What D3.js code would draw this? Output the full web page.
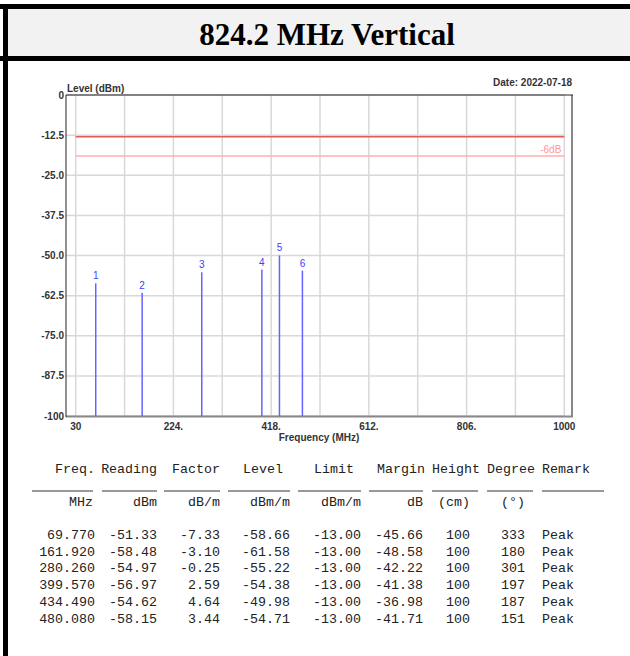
<!DOCTYPE html>
<html>
<head>
<meta charset="utf-8">
<script src="https://cdn.jsdelivr.net/npm/d3@7"></script>
<style>
body { margin: 0; background: #fff; }
svg { display: block; }
</style>
</head>
<body>
<div id="graph"></div>
<script>
var freqs = [69.770, 161.920, 280.260, 399.570, 434.490, 480.080];
var reading = [-51.33, -58.48, -54.97, -56.97, -54.62, -58.15];
var factor = [-7.33, -3.10, -0.25, 2.59, 4.64, 3.44];
var level = [-58.66, -61.58, -55.22, -54.38, -49.98, -54.71];
var limit = [-13.00, -13.00, -13.00, -13.00, -13.00, -13.00];
var margin = [-45.66, -48.58, -42.22, -41.38, -36.98, -41.71];
var height = [100, 100, 100, 100, 100, 100];
var degree = [333, 180, 301, 197, 187, 151];
var remark = ["Peak", "Peak", "Peak", "Peak", "Peak", "Peak"];

var x_ticks = [30, 224, 418, 612, 806, 1000];
var x_tick_labels = ["30", "224.", "418.", "612.", "806.", "1000"];
var x_grid = [30, 127, 224, 321, 418, 515, 612, 709, 806, 903, 1000];
var y_ticks = [0, -12.5, -25, -37.5, -50, -62.5, -75, -87.5, -100];
var y_tick_labels = ["0", "-12.5", "-25.0", "-37.5", "-50.0", "-62.5", "-75.0", "-87.5", "-100"];
var limit_line = -13;
var limit_6db = -19;

var headers = ["Freq.", "Reading", "Factor", "Level", "Limit", "Margin", "Height", "Degree", "Remark"];
var units = ["MHz", "dBm", "dB/m", "dBm/m", "dBm/m", "dB", "(cm)", "(\u00b0)", ""];

var W = 630, H = 656;
var svg = d3.select('#graph').append('svg').attr('width', W).attr('height', H);

// title band and frame
svg.append('rect').attr('x', 8).attr('y', 9).attr('width', W - 8).attr('height', 47).attr('fill', '#f2f2f2');
svg.append('rect').attr('x', 0).attr('y', 4).attr('width', W).attr('height', 5).attr('fill', '#000');
svg.append('rect').attr('x', 0).attr('y', 56).attr('width', W).attr('height', 5).attr('fill', '#000');
svg.append('rect').attr('x', 3).attr('y', 4).attr('width', 5).attr('height', H - 4).attr('fill', '#000');
svg.append('text').attr('x', 327).attr('y', 45)
    .attr('text-anchor', 'middle')
    .attr('style', 'font-family:"Liberation Serif","Times New Roman",serif;font-weight:bold;font-size:31px;fill:#000')
    .text('824.2 MHz Vertical');

// chart
var x = d3.scaleLinear().domain([30, 1000]).range([75.7, 564.3]);
var y = d3.scaleLinear().domain([0, -100]).range([95, 416]);
var lab = 'font-family:"Liberation Sans",Arial,sans-serif;font-weight:bold;font-size:10px;fill:#333';

var g = svg.append('g');
x_grid.forEach(function (v) {
    g.append('line').attr('x1', x(v)).attr('x2', x(v)).attr('y1', 95).attr('y2', 416)
        .attr('style', 'stroke:rgb(216,216,216);stroke-width:1.5');
});
y_ticks.forEach(function (v) {
    g.append('line').attr('x1', 66).attr('x2', x(1000)).attr('y1', y(v)).attr('y2', y(v))
        .attr('style', 'stroke:rgb(216,216,216);stroke-width:1.5');
});

g.append('line').attr('x1', x(30)).attr('x2', x(1000)).attr('y1', y(limit_line)).attr('y2', y(limit_line))
    .attr('style', 'stroke:rgb(225,90,90);stroke-width:1.3');
g.append('line').attr('x1', x(30)).attr('x2', x(1000)).attr('y1', y(limit_6db)).attr('y2', y(limit_6db))
    .attr('style', 'stroke:rgb(255,175,175);stroke-width:1.5');
g.append('text').attr('x', x(1000) - 3).attr('y', y(limit_6db) - 3).attr('text-anchor', 'end')
    .attr('style', 'font-family:"Liberation Sans",Arial,sans-serif;font-size:10px;fill:rgb(255,150,150)')
    .text('-6dB');

// frame
g.append('line').attr('x1', 572).attr('x2', 572).attr('y1', 95).attr('y2', 417).attr('style', 'stroke:#888;stroke-width:2');
g.append('line').attr('x1', 66).attr('x2', 573).attr('y1', 416.5).attr('y2', 416.5).attr('style', 'stroke:#888;stroke-width:2');
g.append('line').attr('x1', 66).attr('x2', 573).attr('y1', 95).attr('y2', 95).attr('style', 'stroke:#222;stroke-width:1');
g.append('line').attr('x1', 66).attr('x2', 66).attr('y1', 95).attr('y2', 417).attr('style', 'stroke:#222;stroke-width:1');

// spikes
for (var i = 0; i < freqs.length; i++) {
    g.append('line').attr('x1', x(freqs[i])).attr('x2', x(freqs[i]))
        .attr('y1', y(-100)).attr('y2', y(level[i]))
        .attr('style', 'stroke:rgb(100,100,255);stroke-width:1.5');
    g.append('text').attr('x', x(freqs[i])).attr('y', y(level[i]) - 4).attr('text-anchor', 'middle')
        .attr('style', 'font-family:"Liberation Sans",Arial,sans-serif;font-size:10px;fill:rgb(60,60,255)')
        .text(i + 1);
}

// axis labels
y_ticks.forEach(function (v, k) {
    g.append('text').attr('x', 64).attr('y', y(v) + 3.5).attr('text-anchor', 'end')
        .attr('style', lab).text(y_tick_labels[k]);
});
x_ticks.forEach(function (v, k) {
    g.append('text').attr('x', x(v)).attr('y', 430).attr('text-anchor', 'middle')
        .attr('style', lab).text(x_tick_labels[k]);
});
g.append('text').attr('x', 319).attr('y', 441).attr('text-anchor', 'middle').attr('style', lab).text('Frequency (MHz)');
g.append('text').attr('x', 67).attr('y', 92).attr('style', lab).text('Level (dBm)');
g.append('text').attr('x', 572).attr('y', 86).attr('text-anchor', 'end').attr('style', lab).text('Date: 2022-07-18');

// table
var mono = 'font-family:"Liberation Mono","DejaVu Sans Mono",monospace;font-size:13.3px;fill:#222';
var col_right = [95, 157, 220, 290, 361, 423, 470, 525];
var head_pos = [[95, 'end'], [157, 'end'], [220, 'end'], [243, 'start'], [314, 'start'], [377, 'start'], [432, 'start'], [487, 'start'], [542, 'start']];
var unit_right = [93, 157, 220, 290, 361, 423, 470, 525];
var rules = [[32, 93], [102, 157], [164, 220], [228, 290], [298, 361], [369, 423], [432, 478], [487, 533], [542, 604]];

var t = svg.append('g');
headers.forEach(function (h, k) {
    t.append('text').attr('x', head_pos[k][0]).attr('y', 473).attr('text-anchor', head_pos[k][1])
        .attr('style', mono).text(h);
});
rules.forEach(function (r) {
    t.append('line').attr('x1', r[0]).attr('x2', r[1]).attr('y1', 491).attr('y2', 491)
        .attr('style', 'stroke:#333;stroke-width:1');
});
units.forEach(function (u, k) {
    if (u) t.append('text').attr('x', unit_right[k]).attr('y', 506).attr('text-anchor', 'end')
        .attr('style', mono).text(u);
});
for (var i = 0; i < freqs.length; i++) {
    var row = [freqs[i].toFixed(3), reading[i].toFixed(2), factor[i].toFixed(2), level[i].toFixed(2),
        limit[i].toFixed(2), margin[i].toFixed(2), String(height[i]), String(degree[i])];
    var yy = 539 + i * 16.7;
    row.forEach(function (s, k) {
        t.append('text').attr('x', col_right[k]).attr('y', yy).attr('text-anchor', 'end')
            .attr('style', mono).text(s);
    });
    t.append('text').attr('x', 542).attr('y', yy).attr('style', mono).text(remark[i]);
}
</script>
</body>
</html>
